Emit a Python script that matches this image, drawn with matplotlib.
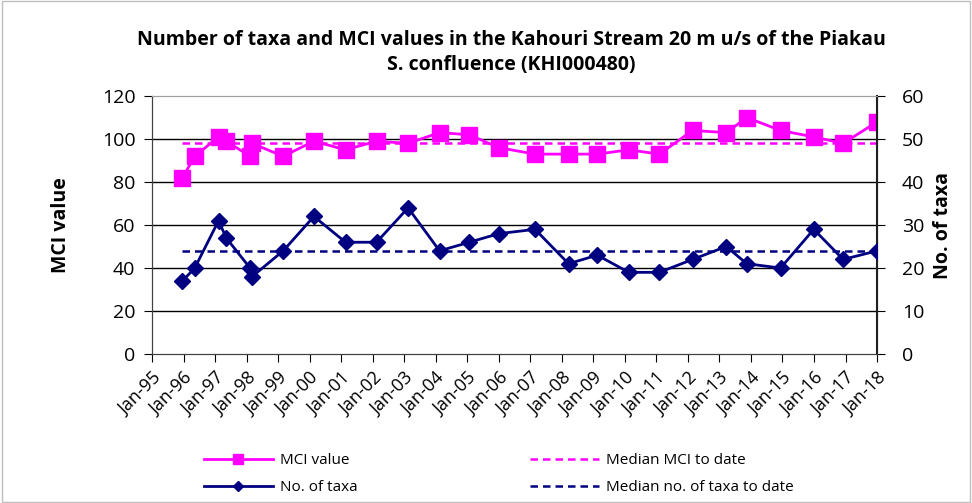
import pandas as pd
import matplotlib.pyplot as plt
import matplotlib.dates as mdates
from matplotlib.lines import Line2D
from matplotlib.patches import Rectangle

plt.rcParams['font.family'] = ['Open Sans', 'DejaVu Sans']

# sampling dates and values
dates = ['1995-12-20', '1996-05-10', '1997-02-10', '1997-05-10', '1998-02-10',
         '1998-03-05', '1999-03-01', '2000-02-20', '2001-02-20', '2002-02-15',
         '2003-02-15', '2004-02-15', '2005-01-25', '2006-01-01', '2007-02-25',
         '2008-03-20', '2009-02-15', '2010-02-15', '2011-02-05', '2012-02-25',
         '2013-03-20', '2013-11-15', '2014-12-10', '2015-12-30', '2016-12-05',
         '2018-01-01']
mci = [82, 92, 101, 99, 92, 98, 92, 99, 95, 99, 98, 103, 102, 96, 93,
       93, 93, 95, 93, 104, 103, 110, 104, 101, 98, 108]
taxa = [17, 20, 31, 27, 20, 18, 24, 32, 26, 26, 34, 24, 26, 28, 29,
        21, 23, 19, 19, 22, 25, 21, 20, 29, 22, 24]
median_mci = 98
median_taxa = 24

df = pd.DataFrame({'date': pd.to_datetime(dates), 'mci': mci, 'taxa': taxa})

magenta = '#FF00FF'
navy = '#000080'
dash = (0, (3, 2))

fig = plt.figure(figsize=(9.72, 5.03), dpi=100)
fig.patches.append(Rectangle((0.002, 0.002), 0.996, 0.996, transform=fig.transFigure,
                             fill=False, edgecolor='#bfbfbf', linewidth=1))
ax1 = fig.add_axes([0.1564, 0.2962, 0.7459, 0.5128])
ax2 = ax1.twinx()

# grid lines (left axis)
for v in [20, 40, 60, 80, 100]:
    ax1.axhline(v, color='black', linewidth=1, zorder=0)

# median lines
x0, x1 = df['date'].iloc[0], df['date'].iloc[-1]
ax1.plot([x0, x1], [median_mci, median_mci], color=magenta, linestyle=dash, linewidth=1.8)
ax2.plot([x0, x1], [median_taxa, median_taxa], color=navy, linestyle=dash, linewidth=1.8)

ax1.plot(df['date'], df['mci'], color=magenta, marker='s', markersize=11,
         linewidth=2, zorder=3)
ax2.plot(df['date'], df['taxa'], color=navy, marker='D', markersize=8,
         linewidth=2, zorder=3)

ax1.set_ylim(0, 120)
ax2.set_ylim(0, 60)
ax1.set_yticks(range(0, 121, 20))
ax2.set_yticks(range(0, 61, 10))
ax1.set_xlim(pd.Timestamp('1995-01-01'), pd.Timestamp('2018-01-01'))

years = pd.date_range('1995-01-01', '2018-01-01', freq='YS')
ax1.set_xticks(years)
ax1.xaxis.set_major_formatter(mdates.DateFormatter('%b-%y'))
for lab in ax1.get_xticklabels():
    lab.set_rotation(45)
    lab.set_ha('right')
    lab.set_rotation_mode('anchor')
    lab.set_fontsize(13)

ax1.tick_params(axis='y', labelsize=14, direction='out', length=6, pad=6)
ax2.tick_params(axis='y', labelsize=14, direction='out', length=6, pad=12)
ax1.tick_params(axis='x', direction='out', length=6, pad=5)

for ax in (ax1, ax2):
    ax.spines['top'].set_color('#a0a0a0')
    ax.spines['left'].set_color('#404040')
    ax.spines['right'].set_color('#202020')
    ax.spines['bottom'].set_color('#404040')
ax2.spines['right'].set_linewidth(1.5)

ax1.set_ylabel('MCI value', fontsize=14, fontweight='bold', labelpad=22)
ax2.set_ylabel('No. of taxa', fontsize=14, fontweight='bold', labelpad=6)

fig.suptitle('Number of taxa and MCI values in the Kahouri Stream 20 m u/s of the Piakau\nS. confluence (KHI000480)',
             x=0.526, y=0.941, fontsize=14, fontweight='bold', linespacing=1.35)

# legend with smaller markers, as in the original
handles = [
    Line2D([], [], color=magenta, marker='s', markersize=7, linewidth=2),
    Line2D([], [], color=navy, marker='D', markersize=5, linewidth=2),
    Line2D([], [], color=magenta, linestyle=dash, linewidth=1.8),
    Line2D([], [], color=navy, linestyle=dash, linewidth=1.8),
]
labels = ['MCI value', 'No. of taxa', 'Median MCI to date', 'Median no. of taxa to date']
fig.legend(handles, labels, loc='center', bbox_to_anchor=(0.513, 0.057), ncol=2,
           frameon=False, fontsize=11, handlelength=4.5, columnspacing=11.3,
           handletextpad=0.46, labelspacing=0.8)

plt.savefig('out.png', dpi=100)
plt.close()
